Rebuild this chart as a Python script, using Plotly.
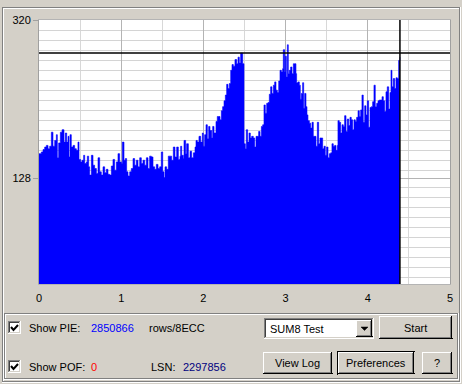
import plotly.graph_objects as go

# ---------------- data ----------------
pos_gb = [0.000, 0.028, 0.049, 0.069, 0.089, 0.110, 0.130, 0.150, 0.170, 0.191,
          0.211, 0.223, 0.239, 0.260, 0.280, 0.304, 0.320, 0.337, 0.353, 0.365,
          0.377, 0.393, 0.414, 0.434, 0.454, 0.474, 0.487, 0.507, 0.523, 0.543,
          0.556, 0.576, 0.588, 0.604, 0.616, 0.637, 0.657, 0.677, 0.698, 0.718,
          0.738, 0.758, 0.779, 0.799, 0.819, 0.839, 0.860, 0.880, 0.900, 0.920,
          0.941, 0.961, 0.981, 1.002, 1.014, 1.034, 1.050, 1.066, 1.083, 1.103,
          1.123, 1.144, 1.164, 1.184, 1.204, 1.225, 1.245, 1.265, 1.286, 1.306,
          1.326, 1.346, 1.367, 1.387, 1.407, 1.427, 1.448, 1.468, 1.488, 1.505,
          1.521, 1.533, 1.553, 1.573, 1.594, 1.614, 1.634, 1.654, 1.675, 1.695,
          1.715, 1.723, 1.736, 1.756, 1.764, 1.784, 1.796, 1.817, 1.837, 1.857,
          1.878, 1.898, 1.910, 1.926, 1.946, 1.967, 1.987, 1.999, 2.015, 2.032,
          2.048, 2.064, 2.080, 2.101, 2.113, 2.129, 2.153, 2.169, 2.186, 2.202,
          2.218, 2.234, 2.251, 2.267, 2.283, 2.299, 2.315, 2.332, 2.348, 2.364,
          2.384, 2.405, 2.421, 2.437, 2.453, 2.465, 2.478, 2.494, 2.510, 2.522,
          2.538, 2.555, 2.571, 2.587, 2.607, 2.624, 2.640, 2.656, 2.672, 2.689,
          2.705, 2.721, 2.737, 2.753, 2.770, 2.786, 2.802, 2.818, 2.834, 2.851,
          2.867, 2.883, 2.899, 2.916, 2.932, 2.948, 2.964, 2.972, 2.989, 2.997,
          3.009, 3.021, 3.033, 3.045, 3.061, 3.078, 3.094, 3.110, 3.126, 3.134,
          3.151, 3.167, 3.179, 3.191, 3.207, 3.220, 3.232, 3.248, 3.260, 3.272,
          3.289, 3.305, 3.321, 3.337, 3.353, 3.370, 3.386, 3.402, 3.418, 3.434,
          3.451, 3.467, 3.483, 3.499, 3.516, 3.532, 3.548, 3.564, 3.580, 3.597,
          3.613, 3.629, 3.637, 3.653, 3.670, 3.686, 3.702, 3.718, 3.735, 3.751,
          3.767, 3.783, 3.799, 3.816, 3.832, 3.848, 3.864, 3.881, 3.897, 3.913,
          3.929, 3.945, 3.962, 3.978, 3.994, 4.010, 4.027, 4.043, 4.059, 4.075,
          4.091, 4.108, 4.124, 4.140, 4.156, 4.173, 4.189, 4.205, 4.221, 4.237,
          4.254, 4.270, 4.282, 4.294, 4.310, 4.327, 4.343, 4.359, 4.375, 4.391]

pie_values = [158, 160, 163, 166, 168, 164, 167, 184, 167, 174,
              181, 153, 171, 184, 187, 172, 183, 172, 179, 154,
              181, 166, 168, 164, 162, 172, 151, 148, 150, 156,
              146, 148, 155, 142, 132, 156, 144, 140, 134, 153,
              136, 132, 142, 135, 139, 133, 132, 143, 151, 138,
              148, 158, 148, 146, 172, 150, 152, 136, 131, 136,
              140, 152, 144, 150, 142, 153, 146, 150, 144, 153,
              140, 155, 154, 142, 139, 145, 140, 142, 160, 136,
              129, 142, 139, 155, 155, 150, 166, 154, 166, 151,
              155, 167, 156, 152, 174, 158, 170, 153, 161, 153,
              159, 166, 174, 172, 179, 172, 183, 167, 181, 193,
              176, 191, 186, 177, 191, 183, 197, 203, 203, 199,
              210, 215, 222, 229, 242, 237, 243, 259, 266, 264,
              272, 267, 275, 268, 280, 280, 267, 170, 164, 187,
              172, 183, 177, 179, 177, 166, 179, 179, 185, 179,
              191, 193, 217, 207, 219, 220, 230, 239, 231, 241,
              245, 235, 232, 246, 259, 257, 261, 284, 257, 276,
              251, 290, 255, 259, 263, 255, 267, 267, 255, 244,
              245, 241, 224, 231, 244, 213, 231, 215, 205, 198,
              195, 189, 196, 179, 179, 167, 196, 170, 177, 177,
              164, 167, 156, 166, 153, 158, 159, 170, 167, 168,
              162, 168, 198, 196, 183, 193, 191, 204, 185, 200,
              192, 202, 199, 187, 199, 197, 202, 210, 203, 211,
              229, 196, 216, 205, 222, 190, 214, 215, 221, 241,
              215, 219, 222, 223, 223, 227, 222, 209, 233, 239,
              212, 232, 259, 239, 249, 237, 250, 249, 271, 275]

x_ticks = [0, 1, 2, 3, 4, 5]
y_ticks = [128, 320]
y_tick_text = ["128", "320"]
limit_value = 280

pie_total = "2850866"
pof_total = "0"
lsn_value = "2297856"
test_name = "SUM8 Test"

# ---------------- geometry helpers ----------------
L, T, W, H = 39, 20, 411, 264
BG = "#D4D0C8"
FONT = "Liberation Sans, Arial, sans-serif"


def X(px):
    return (px - L) / W


def Y(py):
    return (T + H - py) / H


shapes = []


def hline(x0, x1, y, color):
    shapes.append(dict(type="line", xref="paper", yref="paper", layer="above",
                       x0=X(x0), x1=X(x1), y0=Y(y + 0.5), y1=Y(y + 0.5),
                       line=dict(color=color, width=1)))


def vline(x, y0, y1, color):
    shapes.append(dict(type="line", xref="paper", yref="paper", layer="above",
                       x0=X(x + 0.5), x1=X(x + 0.5), y0=Y(y0), y1=Y(y1),
                       line=dict(color=color, width=1)))


def rect(x0, y0, x1, y1, fill):
    shapes.append(dict(type="rect", xref="paper", yref="paper", layer="above",
                       x0=X(x0), x1=X(x1), y0=Y(y0), y1=Y(y1),
                       fillcolor=fill, line=dict(width=0)))


def etched(x0, y0, x1, y1):
    hline(x0, x1, y0, "#808080"); vline(x0, y0, y1, "#808080")
    hline(x0, x1, y1 - 1, "#808080"); vline(x1 - 1, y0, y1, "#808080")
    hline(x0 + 1, x1 - 1, y0 + 1, "white"); vline(x0 + 1, y0 + 1, y1 - 1, "white")
    hline(x0, x1 + 1, y1, "white"); vline(x1, y0, y1 + 1, "white")


def raised(x0, y0, x1, y1, default=False):
    rect(x0, y0, x1, y1, BG)
    if default:
        hline(x0, x1, y0, "black"); vline(x0, y0, y1, "black")
        x0, y0, x1, y1 = x0 + 1, y0 + 1, x1 - 1, y1 - 1
    hline(x0, x1, y0, "white"); vline(x0, y0, y1, "white")
    hline(x0, x1 + 1, y1 - 1, "black"); vline(x1 - 1, y0, y1, "black")
    hline(x0 + 1, x1 - 1, y1 - 2, "#808080"); vline(x1 - 2, y0 + 1, y1 - 1, "#808080")


def sunken(x0, y0, x1, y1):
    rect(x0, y0, x1, y1, "white")
    hline(x0, x1, y0, "#808080"); vline(x0, y0, y1, "#808080")
    hline(x0 + 1, x1 - 1, y0 + 1, "#404040"); vline(x0 + 1, y0 + 1, y1 - 1, "#404040")
    hline(x0, x1, y1 - 1, "white"); vline(x1 - 1, y0, y1, "white")
    hline(x0 + 1, x1 - 1, y1 - 2, BG); vline(x1 - 2, y0 + 1, y1 - 1, BG)


annotations = []


def text(px, py, s, color="black", anchor="left", size=11):
    annotations.append(dict(xref="paper", yref="paper", x=X(px), y=Y(py), text=s,
                            showarrow=False, xanchor=anchor, yanchor="middle",
                            font=dict(family=FONT, size=size, color=color)))


def checkbox(x0, y0):
    sunken(x0, y0, x0 + 13, y0 + 13)
    shapes.append(dict(type="path", xref="paper", yref="paper", layer="above",
                       path="M {} {} L {} {} L {} {}".format(
                           X(x0 + 3), Y(y0 + 6), X(x0 + 5.5), Y(y0 + 9), X(x0 + 10), Y(y0 + 4)),
                       line=dict(color="black", width=2)))


# outer frames
etched(2, 7, 460, 382)
etched(4, 313, 458, 379)

# lower panel widgets
checkbox(8, 321)
checkbox(8, 360)
text(27, 328, "Show PIE:")
text(89, 328, pie_total, color="#0000FF")
text(147, 328, "rows/8ECC")
text(27, 367, "Show POF:")
text(89, 367, pof_total, color="#FF0000")
text(149, 367, "LSN:")
text(181, 367, lsn_value, color="#000080")

sunken(264, 318, 374, 339)
text(268, 329, test_name)
raised(356, 320, 372, 337)
shapes.append(dict(type="path", xref="paper", yref="paper", layer="above",
                   path="M {} {} L {} {} L {} {} Z".format(
                       X(361), Y(327), X(368), Y(327), X(364.5), Y(330.5)),
                   fillcolor="black", line=dict(color="black", width=0.5)))

raised(379, 316, 452, 339)
text(415.5, 327.5, "Start", anchor="center")
raised(263, 352, 332, 374)
text(297.5, 363, "View Log", anchor="center")
raised(337, 351, 415, 375, default=True)
text(376, 363, "Preferences", anchor="center")
raised(422, 352, 452, 374)
text(436.5, 363, "?", anchor="center")

# limit line and position cursor (data referenced)
shapes.append(dict(type="line", xref="paper", yref="y", x0=0, x1=1,
                   y0=limit_value, y1=limit_value, layer="above",
                   line=dict(color="black", width=1.5)))
shapes.append(dict(type="line", xref="x", yref="paper", x0=pos_gb[-1], x1=pos_gb[-1],
                   y0=0, y1=1, layer="above", line=dict(color="black", width=1.5)))

# horizontal minor grid (every ~10 px as in the original)
step = 10 / 0.825
minor_y = [320 - step * k for k in range(1, 16)] + [128 - 11.6 - step * k for k in range(0, 10)]

fig = go.Figure()
fig.add_trace(go.Scatter(x=pos_gb, y=pie_values, mode="lines",
                         line=dict(shape="hv", width=0.6, color="#0000FF"),
                         fill="tozeroy", fillcolor="#0000FF", hoverinfo="skip"))

fig.update_layout(
    width=462, height=384, autosize=False,
    margin=dict(l=L, r=462 - L - W, t=T, b=384 - T - H, pad=0, autoexpand=False),
    paper_bgcolor=BG, plot_bgcolor="white",
    showlegend=False,
    shapes=shapes, annotations=annotations,
    font=dict(family=FONT, size=11, color="black"),
)
fig.update_xaxes(range=[0, 5], tickvals=x_ticks, ticks="", showgrid=True,
                 gridcolor="#B4B4B4", gridwidth=1, zeroline=False,
                 showline=True, linecolor="#B4B4B4", mirror=True, automargin=False,
                 tickfont=dict(family=FONT, size=11, color="black"),
                 ticklabelstandoff=4,
                 minor=dict(dtick=0.5, showgrid=True, gridcolor="#D8D8D8", gridwidth=1))
fig.update_yaxes(range=[0, 320], tickvals=y_ticks, ticktext=y_tick_text,
                 ticks="outside", ticklen=5, tickcolor="#A0A0A0", automargin=False,
                 showgrid=True, gridcolor="#B4B4B4", gridwidth=1, zeroline=False,
                 showline=True, linecolor="#A0A0A0", mirror=True,
                 tickfont=dict(family=FONT, size=11, color="black"),
                 minor=dict(tickvals=minor_y, showgrid=True, gridcolor="#D4D4D4",
                            gridwidth=1, ticks=""))

fig.write_html("out.html")
